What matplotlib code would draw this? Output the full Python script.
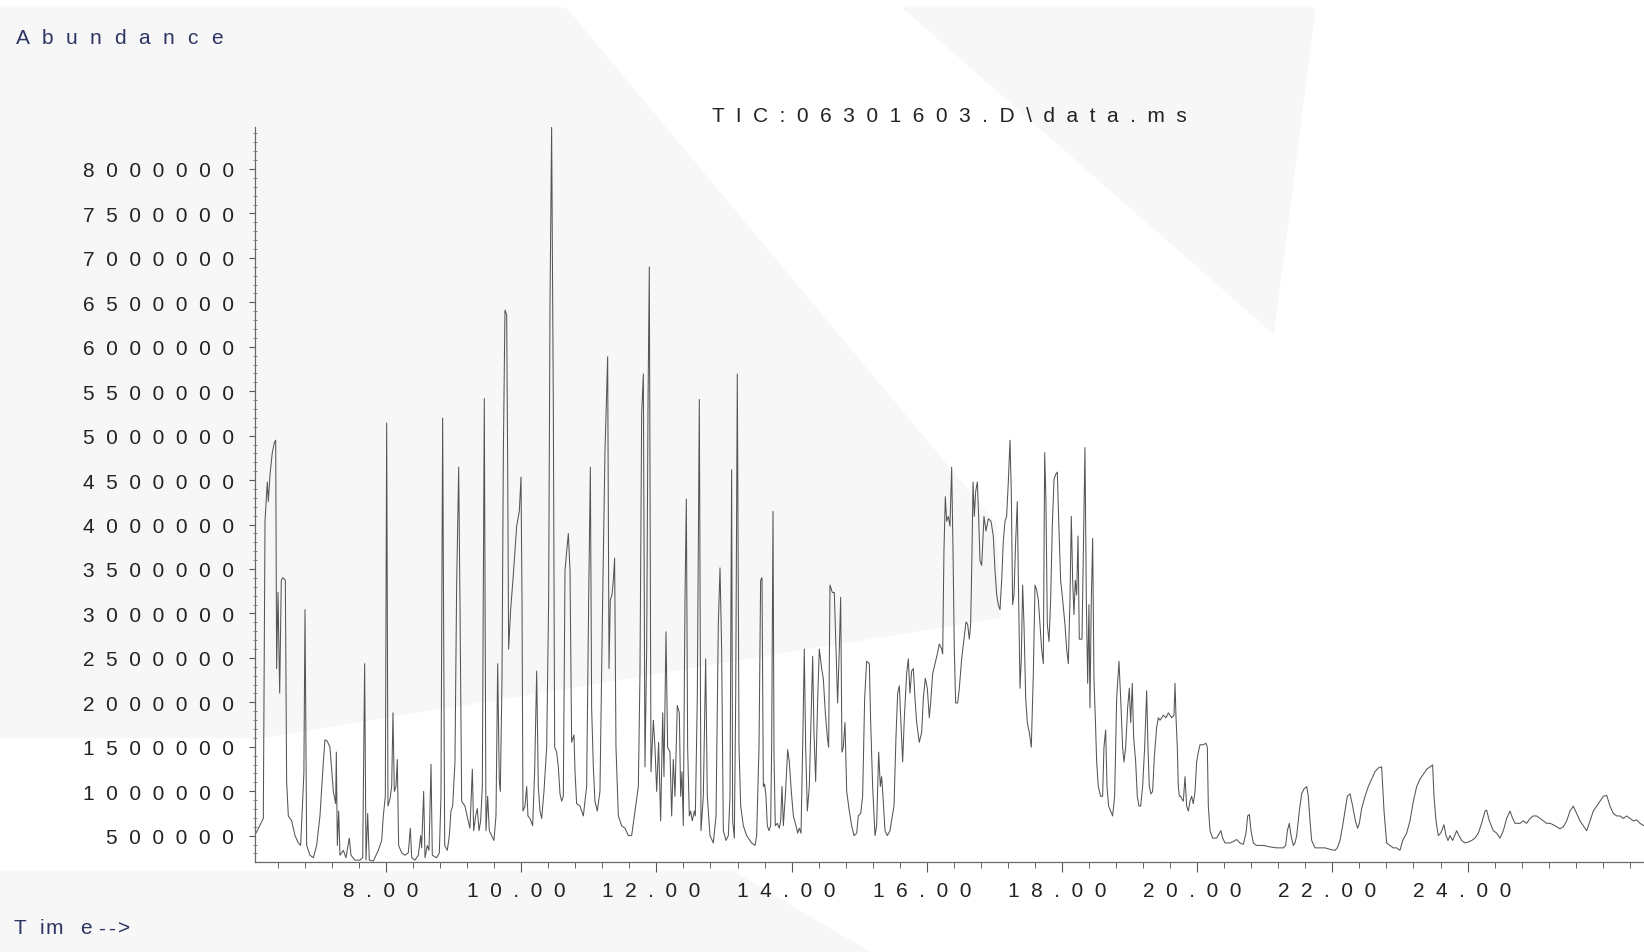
import matplotlib
matplotlib.use("Agg")
import matplotlib.pyplot as plt
from matplotlib.patches import Polygon
from matplotlib.ticker import FixedLocator, FixedFormatter, MultipleLocator
from matplotlib.transforms import ScaledTranslation

# ---------------- data (retention time [min], abundance [thousands]) ----------------
seg_a = [(6.062, 520), (6.077, 530), (6.185, 694), (6.210, 4037), (6.244, 4479), (6.259, 4258),
         (6.284, 4562), (6.318, 4810), (6.348, 4921), (6.368, 4949), (6.382, 2380), (6.402, 3236),
         (6.427, 2103), (6.451, 3374), (6.471, 3402), (6.511, 3374), (6.530, 1109), (6.555, 722),
         (6.604, 667), (6.654, 501), (6.703, 418), (6.737, 390), (6.785, 1200), (6.802, 3043),
         (6.826, 390), (6.876, 280), (6.925, 252), (6.974, 390), (7.023, 722), (7.073, 1330),
         (7.097, 1578), (7.132, 1562), (7.171, 1495), (7.221, 998), (7.255, 860), (7.265, 1440),
         (7.280, 390), (7.300, 777), (7.319, 280), (7.369, 335), (7.408, 252), (7.457, 473),
         (7.482, 280), (7.541, 225), (7.615, 225), (7.655, 252), (7.684, 2435), (7.704, 225),
         (7.729, 750), (7.753, 225), (7.812, 214), (7.886, 335), (7.936, 446), (7.960, 722),
         (7.990, 943)]

seg_b = [(8.010, 5142), (8.029, 833), (8.059, 915), (8.084, 1053), (8.103, 1882), (8.123, 998),
         (8.148, 1053), (8.167, 1357), (8.187, 390), (8.232, 308), (8.281, 280), (8.330, 308),
         (8.360, 584), (8.380, 252), (8.429, 225), (8.478, 280), (8.513, 501), (8.527, 363),
         (8.557, 998), (8.577, 252), (8.611, 390), (8.636, 335), (8.666, 1302), (8.685, 280),
         (8.749, 252), (8.789, 308), (8.813, 943), (8.838, 5197), (8.868, 390), (8.907, 335),
         (8.937, 501), (8.961, 777), (8.986, 833), (9.020, 1330), (9.045, 3319), (9.075, 4645),
         (9.094, 3153), (9.119, 888), (9.168, 833), (9.208, 694), (9.242, 584), (9.277, 1247),
         (9.297, 556), (9.326, 722), (9.351, 805), (9.376, 556), (9.400, 667), (9.425, 1053),
         (9.454, 5418), (9.479, 556), (9.504, 943), (9.528, 556), (9.563, 501), (9.597, 446),
         (9.627, 722), (9.652, 2435), (9.676, 1109), (9.691, 998), (9.716, 2269), (9.736, 4810),
         (9.760, 6413), (9.785, 6357), (9.800, 4645), (9.814, 2600), (9.844, 3043), (9.883, 3429),
         (9.933, 3982), (9.972, 4148), (9.997, 4534)]

seg_c = [(10.012, 3153), (10.026, 777), (10.056, 833), (10.081, 1053), (10.100, 722), (10.130, 694),
         (10.169, 612), (10.199, 1219), (10.229, 2352), (10.253, 1053), (10.278, 777), (10.303, 694),
         (10.337, 998), (10.377, 1495), (10.406, 3153), (10.426, 6468), (10.450, 8468), (10.475, 5363),
         (10.495, 1495), (10.524, 1440), (10.549, 1274), (10.574, 971), (10.598, 888), (10.623, 943),
         (10.648, 3484), (10.697, 3899), (10.722, 3484), (10.746, 1551), (10.781, 1634), (10.796, 1219),
         (10.820, 860), (10.870, 833), (10.919, 722), (10.968, 1053), (10.998, 3153), (11.023, 4645),
         (11.042, 1938), (11.067, 1274), (11.091, 888), (11.126, 777), (11.165, 998), (11.205, 3153),
         (11.239, 4810), (11.279, 5888), (11.299, 2380), (11.318, 3153), (11.343, 3208), (11.363, 3374),
         (11.382, 3623), (11.402, 1495), (11.437, 722), (11.486, 612), (11.535, 584), (11.585, 501),
         (11.634, 501), (11.683, 777), (11.733, 1053), (11.757, 2324), (11.782, 5252), (11.807, 5694),
         (11.831, 1274), (11.856, 2600), (11.876, 5363), (11.895, 6899), (11.920, 1219), (11.955, 1799),
         (11.979, 1495), (12.004, 998), (12.033, 1551), (12.063, 667), (12.093, 1882), (12.112, 1164),
         (12.142, 2794), (12.166, 1495), (12.201, 1440), (12.226, 722), (12.250, 1357), (12.275, 943),
         (12.309, 1965), (12.339, 1882), (12.359, 943), (12.378, 1219), (12.398, 612), (12.423, 3153),
         (12.443, 4286), (12.462, 1495), (12.487, 722), (12.507, 777), (12.531, 667), (12.561, 777),
         (12.576, 722), (12.605, 2048), (12.635, 5407)]

seg_d = [(12.660, 556), (12.694, 943), (12.729, 2490), (12.753, 943), (12.793, 501), (12.842, 418),
         (12.882, 722), (12.916, 2877), (12.941, 3512), (12.965, 2600), (12.990, 556), (13.030, 446),
         (13.064, 501), (13.089, 943), (13.113, 4617), (13.128, 667), (13.153, 473), (13.173, 2048),
         (13.197, 5694), (13.222, 1495), (13.247, 833), (13.286, 612), (13.335, 501), (13.409, 418),
         (13.459, 390), (13.483, 501), (13.518, 1495), (13.542, 3374), (13.562, 3402), (13.582, 1053),
         (13.601, 1081), (13.621, 943), (13.641, 612), (13.666, 556), (13.690, 612), (13.705, 1495),
         (13.725, 4148), (13.740, 1385), (13.759, 612), (13.789, 639), (13.818, 584), (13.838, 667),
         (13.858, 1053), (13.878, 612), (13.907, 943), (13.942, 1468), (13.966, 1330), (13.996, 998),
         (14.026, 722), (14.065, 612), (14.090, 529), (14.114, 584), (14.139, 529), (14.164, 1495),
         (14.188, 2600), (14.208, 1495), (14.233, 777), (14.262, 1053), (14.297, 2048), (14.312, 2518),
         (14.331, 1661), (14.356, 1109), (14.386, 2048), (14.410, 2600), (14.445, 2380), (14.469, 2269),
         (14.499, 1882), (14.529, 1606), (14.548, 1495), (14.568, 3319), (14.603, 3236), (14.632, 3236),
         (14.657, 2600), (14.681, 1993), (14.706, 2600), (14.726, 3181), (14.745, 1440), (14.765, 1495),
         (14.790, 1772), (14.815, 998), (14.854, 777), (14.889, 612), (14.923, 501), (14.963, 529),
         (14.987, 722), (15.022, 750), (15.051, 943), (15.081, 2048), (15.110, 2462), (15.150, 2435),
         (15.170, 1772), (15.199, 1053), (15.234, 501), (15.258, 612), (15.288, 1440), (15.313, 1053),
         (15.332, 1164), (15.352, 943), (15.382, 556), (15.416, 501), (15.456, 556), (15.490, 722)]

seg_e = [(15.515, 833), (15.544, 1606), (15.569, 2103), (15.594, 2186), (15.618, 1772), (15.643, 1330),
         (15.668, 1827), (15.702, 2324), (15.727, 2490), (15.751, 2103), (15.776, 2352), (15.801, 2380),
         (15.825, 2048), (15.850, 1772), (15.889, 1551), (15.924, 1661), (15.949, 2048), (15.978, 2269),
         (16.008, 2158), (16.037, 1827), (16.057, 1993), (16.087, 2324), (16.121, 2435), (16.156, 2545),
         (16.185, 2656), (16.220, 2600), (16.235, 2545), (16.254, 3705), (16.274, 4313), (16.294, 4037),
         (16.319, 4092), (16.343, 3982), (16.368, 4645), (16.388, 3705), (16.407, 2600), (16.427, 1993),
         (16.457, 1993), (16.481, 2158), (16.516, 2490), (16.550, 2711), (16.580, 2904), (16.605, 2877),
         (16.629, 2711), (16.649, 2877), (16.669, 3705), (16.684, 4479), (16.703, 4092), (16.723, 4369),
         (16.748, 4479), (16.767, 4092), (16.787, 3595), (16.812, 3540), (16.846, 4092), (16.876, 3927),
         (16.910, 4065), (16.950, 4037), (16.984, 3871), (17.009, 3484), (17.034, 3208), (17.058, 3098),
         (17.083, 3043), (17.108, 3374), (17.132, 3816), (17.157, 4037), (17.181, 4092), (17.206, 4479),
         (17.231, 4949), (17.250, 4369), (17.270, 3098), (17.290, 3208), (17.315, 3816), (17.339, 4258),
         (17.359, 3153), (17.379, 2158), (17.398, 2490), (17.418, 3319), (17.438, 2877), (17.463, 2048),
         (17.487, 1772), (17.517, 1661), (17.546, 1495), (17.576, 2324), (17.601, 3319), (17.625, 3264),
         (17.650, 3153), (17.675, 2877), (17.699, 2600), (17.724, 2435), (17.744, 4810), (17.763, 4258),
         (17.783, 2877), (17.808, 2683), (17.832, 3153), (17.857, 3982), (17.882, 4507), (17.906, 4562),
         (17.931, 4590), (17.956, 3927), (17.980, 3374), (18.010, 3153), (18.044, 2877), (18.069, 2600),
         (18.094, 2435), (18.118, 3153), (18.138, 4092), (18.158, 3374), (18.177, 2987), (18.197, 3374),
         (18.217, 3208), (18.237, 3871), (18.256, 2711), (18.276, 2711), (18.296, 2711), (18.316, 3705),
         (18.340, 4866), (18.360, 3153), (18.380, 2214), (18.399, 3098), (18.414, 1938), (18.434, 3153),
         (18.454, 3844), (18.473, 2269), (18.493, 1827)]

seg_f = [(18.513, 1330), (18.537, 1053), (18.572, 943), (18.601, 943), (18.621, 1495), (18.646, 1689),
         (18.666, 1053), (18.690, 833), (18.720, 777), (18.749, 722), (18.779, 943), (18.809, 2048),
         (18.843, 2462), (18.868, 2048), (18.897, 1495), (18.917, 1330), (18.942, 1495), (18.971, 1938),
         (18.996, 2158), (19.016, 1772), (19.040, 2214), (19.060, 1606), (19.090, 1330), (19.114, 943),
         (19.139, 833), (19.164, 833), (19.193, 1053), (19.223, 1495), (19.253, 2131), (19.272, 1495),
         (19.292, 1053), (19.316, 971), (19.341, 998), (19.366, 1385), (19.400, 1717), (19.425, 1827),
         (19.450, 1799), (19.499, 1855), (19.539, 1827), (19.573, 1882), (19.623, 1827), (19.657, 1855),
         (19.672, 2214), (19.687, 1827), (19.706, 1495), (19.721, 1053), (19.736, 943), (19.756, 943),
         (19.771, 915), (19.795, 888), (19.820, 1164), (19.844, 833), (19.869, 777), (19.894, 888),
         (19.918, 943), (19.943, 860), (19.968, 998), (19.992, 1330), (20.017, 1440), (20.042, 1523),
         (20.091, 1523), (20.130, 1540), (20.150, 1495), (20.165, 833), (20.190, 556), (20.229, 473),
         (20.288, 473), (20.328, 529), (20.352, 556), (20.377, 473), (20.412, 418), (20.486, 418),
         (20.535, 435), (20.584, 457), (20.633, 418), (20.683, 402), (20.722, 529), (20.747, 722),
         (20.772, 739), (20.796, 556), (20.831, 418), (20.880, 390), (20.979, 390)]

seg_g = [(21.077, 374), (21.176, 363), (21.274, 363), (21.309, 390), (21.334, 556), (21.363, 639),
         (21.388, 501), (21.422, 390), (21.447, 418), (21.472, 501), (21.511, 777), (21.546, 971),
         (21.580, 1026), (21.620, 1053), (21.644, 943), (21.669, 667), (21.694, 446), (21.743, 363),
         (21.817, 363), (21.891, 363), (21.965, 346), (22.039, 335), (22.073, 363), (22.113, 446),
         (22.152, 612), (22.187, 777), (22.221, 943), (22.261, 971), (22.300, 833), (22.340, 667),
         (22.374, 584), (22.399, 639), (22.433, 805), (22.483, 943), (22.532, 1053), (22.581, 1136),
         (22.630, 1219), (22.680, 1263), (22.729, 1274), (22.744, 1053), (22.764, 777), (22.803, 418),
         (22.852, 390), (22.902, 363), (22.951, 363), (23.000, 335), (23.040, 446), (23.099, 529),
         (23.148, 667), (23.198, 888), (23.247, 1053), (23.296, 1136), (23.346, 1192), (23.395, 1247),
         (23.444, 1274), (23.483, 1296), (23.503, 943), (23.533, 667), (23.567, 501), (23.602, 529),
         (23.632, 584), (23.651, 623), (23.681, 501), (23.710, 446), (23.740, 501), (23.779, 446),
         (23.814, 512), (23.839, 556), (23.873, 501), (23.913, 446), (23.962, 418), (24.011, 429),
         (24.060, 446), (24.110, 473), (24.159, 529), (24.208, 639), (24.258, 777), (24.282, 788),
         (24.322, 667), (24.381, 556), (24.430, 529), (24.480, 473), (24.529, 556), (24.578, 694),
         (24.628, 777), (24.667, 694), (24.702, 639), (24.776, 639), (24.825, 667), (24.874, 639),
         (24.923, 694), (24.973, 722), (25.022, 722), (25.071, 694), (25.121, 667), (25.170, 639),
         (25.219, 639), (25.269, 623), (25.318, 601), (25.367, 578), (25.417, 601), (25.466, 667),
         (25.515, 777), (25.564, 833), (25.614, 750), (25.663, 667), (25.712, 612), (25.762, 556),
         (25.811, 667), (25.860, 777), (25.910, 833), (25.959, 888), (26.008, 943), (26.058, 954),
         (26.107, 833), (26.156, 750), (26.206, 722), (26.255, 722), (26.304, 694), (26.353, 722),
         (26.403, 694), (26.452, 667), (26.501, 678), (26.551, 639), (26.610, 612)]

x_major_ticks = [8, 10, 12, 14, 16, 18, 20, 22, 24]
x_major_labels = ["8.00", "10.00", "12.00", "14.00", "16.00", "18.00", "20.00", "22.00", "24.00"]
y_major_ticks = [500000, 1000000, 1500000, 2000000, 2500000, 3000000, 3500000, 4000000,
                 4500000, 5000000, 5500000, 6000000, 6500000, 7000000, 7500000, 8000000]
y_major_labels = [str(v) for v in y_major_ticks]

title_text = "TIC:06301603.D\\data.ms"
ylabel_text = "Abundance"
xlabel_chars = ["T", "i", "m", "e", "-", "-", ">"]

# ---------------- drawing ----------------
plt.rcParams["font.family"] = ["Liberation Sans", "DejaVu Sans"]
FS = 15


def spaced(s):
    return "  ".join(s)


segments = [seg_a, seg_b, seg_c, seg_d, seg_e, seg_f, seg_g]
times = [p[0] for seg in segments for p in seg]
abund = [p[1] * 1000 for seg in segments for p in seg]

W, H = 1644, 953
fig = plt.figure(figsize=(W / 100, H / 100), dpi=100)
fig.patch.set_facecolor("white")


def fxy(pts):
    # shown-image coordinates (1568 x 909) -> figure fraction
    return [(x / 1568.0, 1 - y / 909.0) for x, y in pts]


bg_color = "#f7f7f7"
for pts in ([(0, 8), (540, 8), (950, 500), (955, 590), (250, 705), (0, 705)],
            [(860, 8), (1255, 8), (1215, 320)],
            [(0, 832), (700, 832), (830, 909), (0, 909)]):
    fig.add_artist(Polygon(fxy(pts), closed=True, facecolor=bg_color, edgecolor="none",
                           transform=fig.transFigure, zorder=-5))

left, bottom, top = 255 / W, 1 - 863 / H, 1 - 128 / H
ax = fig.add_axes([left, bottom, 1 - left, top - bottom])
ax.patch.set_facecolor("none")

ax.plot(times, abund, color="#555555", lw=0.75)

ax.set_xlim(6.062, 26.61)
ax.set_ylim(204000, 8472000)

for s in ("top", "right"):
    ax.spines[s].set_visible(False)
for s in ("left", "bottom"):
    ax.spines[s].set_color("#6a6a6a")
    ax.spines[s].set_linewidth(0.9)

ax.xaxis.set_major_locator(FixedLocator(x_major_ticks))
ax.xaxis.set_major_formatter(FixedFormatter([spaced(s) for s in x_major_labels]))
ax.xaxis.set_minor_locator(MultipleLocator(0.4))
ax.yaxis.set_major_locator(FixedLocator(y_major_ticks))
ax.yaxis.set_major_formatter(FixedFormatter([spaced(s) for s in y_major_labels]))
ax.yaxis.set_minor_locator(MultipleLocator(100000))

ax.tick_params(axis="x", which="major", direction="out", length=7, width=0.8, color="#555555",
               pad=7, labelsize=FS, labelcolor="#222222")
ax.tick_params(axis="x", which="minor", direction="out", length=4, width=0.7, color="#666666")
ax.tick_params(axis="y", which="major", direction="out", length=4, width=0.8, color="#555555",
               pad=11, labelsize=FS, labelcolor="#222222")
ax.tick_params(axis="y", which="minor", direction="inout", length=3, width=0.6, color="#777777")

shift = ScaledTranslation(-5 / 100, 0, fig.dpi_scale_trans)
for lab in ax.get_xticklabels():
    lab.set_transform(lab.get_transform() + shift)

fig.text(949 / W, 1 - 116 / H, spaced(title_text), ha="center", va="center",
         fontsize=FS, color="#222222")

# "Abundance" with wide, even letter pitch
for i, ch in enumerate(ylabel_text):
    fig.text((23 + i * 24.2) / W, 1 - 39 / H, ch, ha="center", va="center",
             fontsize=FS, color="#2d3566")

# "T im e -->"
for ch, xp in zip(xlabel_chars, [20, 42, 54, 86, 102, 112, 124]):
    fig.text(xp / W, 1 - 929 / H, ch, ha="center", va="center",
             fontsize=FS, color="#2d3566")

fig.savefig("out.png", dpi=100, facecolor="white")
